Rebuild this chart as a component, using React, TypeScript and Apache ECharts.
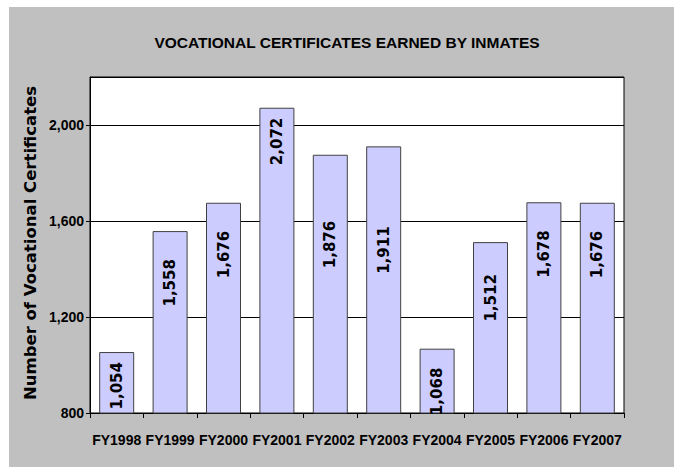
import React, { useEffect, useRef } from "react";
import * as echarts from "echarts";

const categories = ["FY1998", "FY1999", "FY2000", "FY2001", "FY2002", "FY2003", "FY2004", "FY2005", "FY2006", "FY2007"];
const values = [1054, 1558, 1676, 2072, 1876, 1911, 1068, 1512, 1678, 1676];
const titleText = "VOCATIONAL CERTIFICATES EARNED BY INMATES";
const yAxisName = "Number of Vocational Certificates";

const SANS = "'Liberation Sans', Arial, sans-serif";
const WIDE = "'DejaVu Sans', Verdana, sans-serif";

// label placement (px below the bar top), as placed in the source chart
const labelGap = [10, 28, 28, 10, 66, 80, 19, 32, 28, 28];

export default function App() {
  const ref = useRef<HTMLDivElement>(null);
  useEffect(() => {
    if (!ref.current) return;
    const chart = echarts.init(ref.current, undefined, { renderer: "svg" });
    chart.setOption({
      animation: false,
      backgroundColor: "#ffffff",
      graphic: [
        {
          type: "rect",
          shape: { x: 9, y: 7, width: 665, height: 460 },
          style: { fill: "#c0c0c0" },
          z: -10,
        },
        {
          type: "text",
          x: 30,
          y: 243,
          rotation: Math.PI / 2,
          style: {
            text: yAxisName,
            font: `bold 16.5px ${WIDE}`,
            fill: "#000",
            align: "center",
            verticalAlign: "middle",
          },
        },
      ],
      title: {
        text: titleText,
        left: 342,
        textAlign: "center",
        top: 29,
        textStyle: { fontFamily: SANS, fontWeight: "bold", fontSize: 15.5, color: "#000" },
      },
      grid: { left: 90, top: 77, width: 534, height: 336, show: true, backgroundColor: "#ffffff", borderColor: "#000", borderWidth: 1 },
      xAxis: {
        type: "category",
        data: categories,
        axisLine: { lineStyle: { color: "#000", width: 1 } },
        axisTick: { show: true, length: 5, inside: false, lineStyle: { color: "#000" } },
        axisLabel: { fontFamily: SANS, fontWeight: "bold", fontSize: 14, color: "#000", margin: 20, interval: 0 },
      },
      yAxis: {
        type: "value",
        min: 800,
        max: 2200,
        interval: 400,
        axisLine: { show: true, lineStyle: { color: "#000" } },
        axisTick: { show: true, length: 4, lineStyle: { color: "#000" } },
        axisLabel: {
          fontFamily: SANS,
          fontWeight: "bold",
          fontSize: 14,
          color: "#000",
          margin: 6,
          showMaxLabel: false,
          formatter: (v: number) => (v % 400 === 0 ? v.toLocaleString("en-US") : ""),
        },
        splitLine: { show: true, lineStyle: { color: "#000", width: 1 } },
      },
      series: [
        {
          type: "bar",
          data: values.map((v, i) => ({ value: v, label: { distance: labelGap[i] } })),
          barWidth: 35,
          itemStyle: { color: "#ccccff", borderColor: "#404040", borderWidth: 1 },
          label: {
            show: true,
            position: "insideTop",
            rotate: 90,
            align: "right",
            verticalAlign: "middle",
            fontFamily: WIDE,
            fontWeight: "bold",
            fontSize: 15,
            color: "#000",
            formatter: (p: any) => Number(p.value).toLocaleString("en-US"),
          },
        },
      ],
    });
    return () => chart.dispose();
  }, []);
  return <div ref={ref} style={{ position: "fixed", left: 0, top: 0, width: 679, height: 467 }} />;
}
